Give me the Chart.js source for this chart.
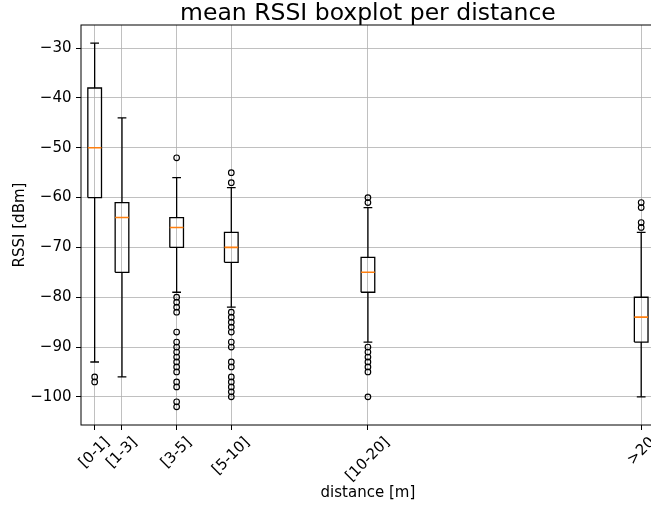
<!DOCTYPE html>
<html>
<head>
<meta charset="utf-8">
<script src="https://cdn.jsdelivr.net/npm/chart.js@4.4.0/dist/chart.umd.min.js"></script>
<style>
  html, body { margin: 0; padding: 0; background: #fff; overflow: hidden; }
  #wrap { width: 660px; height: 506px; }
</style>
</head>
<body>
<div id="wrap"><canvas id="boxChart" width="660" height="506"></canvas></div>
<script>
// distance bins and where they sit on the x axis
const categories = ['[0-1]', '[1-3]', '[3-5]', '[5-10]', '[10-20]', '>20'];
const positions = [1, 2, 4, 6, 11, 21];

// box statistics per bin (dBm)
const whiskerHigh = [-29, -44, -56, -58, -62, -67];
const q3 = [-38, -61, -64, -67, -72, -80];
const medians = [-50, -64, -66, -70, -75, -84];
const q1 = [-60, -75, -70, -73, -79, -89];
const whiskerLow = [-93, -96, -79, -82, -89, -100];

// outliers per bin
const fliers = [
  [-96, -97],
  [],
  [-52, -80, -81, -82, -83, -87, -89, -90, -91, -92, -93, -94, -95, -97, -98, -101, -102],
  [-55, -57, -83, -84, -85, -86, -87, -89, -90, -93, -94, -96, -97, -98, -99, -100],
  [-60, -61, -90, -91, -92, -93, -94, -95, -100],
  [-61, -62, -65, -66]
];

const yTicks = [-100, -90, -80, -70, -60, -50, -40, -30];

const BOX_HALF = 0.25;
const CAP_HALF = 0.16;
const FONT = '"DejaVu Sans", sans-serif';

// build polyline point lists (null y breaks the line)
const boxPts = [], whiskerPts = [], capPts = [], medianPts = [], flierPts = [];
positions.forEach((p, i) => {
  boxPts.push(
    { x: p - BOX_HALF, y: q1[i] }, { x: p + BOX_HALF, y: q1[i] },
    { x: p + BOX_HALF, y: q3[i] }, { x: p - BOX_HALF, y: q3[i] },
    { x: p - BOX_HALF, y: q1[i] }, { x: p, y: null }
  );
  whiskerPts.push(
    { x: p, y: q3[i] }, { x: p, y: whiskerHigh[i] }, { x: p, y: null },
    { x: p, y: q1[i] }, { x: p, y: whiskerLow[i] }, { x: p, y: null }
  );
  capPts.push(
    { x: p - CAP_HALF, y: whiskerHigh[i] }, { x: p + CAP_HALF, y: whiskerHigh[i] }, { x: p, y: null },
    { x: p - CAP_HALF, y: whiskerLow[i] }, { x: p + CAP_HALF, y: whiskerLow[i] }, { x: p, y: null }
  );
  medianPts.push({ x: p - BOX_HALF, y: medians[i] }, { x: p + BOX_HALF, y: medians[i] }, { x: p, y: null });
  fliers[i].forEach(v => flierPts.push({ x: p, y: v }));
});

const lineSet = (data, color, width) => ({
  data,
  showLine: true,
  spanGaps: false,
  borderColor: color,
  borderWidth: width,
  borderJoinStyle: 'miter',
  pointRadius: 0,
  fill: false
});

// rotated x tick labels centred under the ticks, plus the axes frame
const framePlugin = {
  id: 'frameAndLabels',
  afterDatasetsDraw(chart) {
    const { ctx, chartArea } = chart;
    ctx.save();
    ctx.strokeStyle = '#000';
    ctx.lineWidth = 1;
    ctx.strokeRect(chartArea.left, chartArea.top, chartArea.right - chartArea.left, chartArea.bottom - chartArea.top);
    ctx.restore();
  },
  afterDraw(chart) {
    const { ctx, chartArea, scales: { x } } = chart;
    ctx.save();
    ctx.font = '15px ' + FONT;
    ctx.fillStyle = '#000';
    ctx.textAlign = 'center';
    ctx.textBaseline = 'middle';
    const h = 17;
    const top = chartArea.bottom + 9;
    categories.forEach((label, i) => {
      const w = ctx.measureText(label).width;
      const side = (w + h) * Math.SQRT1_2;
      ctx.save();
      ctx.translate(x.getPixelForValue(positions[i]), top + side / 2);
      ctx.rotate(-Math.PI / 4);
      ctx.fillText(label, 0, 0);
      ctx.restore();
    });
    ctx.restore();
  }
};

const gridOpts = { color: '#b0b0b0', lineWidth: 0.8, tickColor: '#000', tickLength: 5, tickWidth: 1 };

new Chart(document.getElementById('boxChart'), {
  type: 'scatter',
  data: {
    datasets: [
      lineSet(medianPts, '#ff7f0e', 1.6),
      lineSet(boxPts, '#000', 1.3),
      lineSet(whiskerPts, '#000', 1.3),
      lineSet(capPts, '#000', 1.3),
      {
        data: flierPts,
        showLine: false,
        pointStyle: 'circle',
        pointRadius: 2.8,
        pointBorderWidth: 1.15,
        pointBorderColor: '#000',
        pointBackgroundColor: 'rgba(0,0,0,0)'
      }
    ]
  },
  options: {
    responsive: false,
    animation: false,
    devicePixelRatio: 1,
    layout: { padding: { left: 0, right: 5, top: 0, bottom: 0 } },
    plugins: {
      legend: { display: false },
      tooltip: { enabled: false },
      title: {
        display: true,
        text: 'mean RSSI boxplot per distance',
        fullSize: false,
        color: '#000',
        font: { family: FONT, size: 23.5, weight: 'normal', lineHeight: 0.9 },
        padding: { top: 3, bottom: 0.85 }
      }
    },
    scales: {
      x: {
        type: 'linear',
        min: 0.5,
        max: 21.5,
        afterBuildTicks: s => { s.ticks = positions.map(v => ({ value: v })); },
        afterFit: s => { s.height = 81; },
        ticks: { display: false },
        grid: gridOpts,
        border: { display: false },
        title: {
          display: true,
          text: 'distance [m]',
          color: '#000',
          font: { family: FONT, size: 15 },
          padding: { top: 0, bottom: 3.5 }
        }
      },
      y: {
        type: 'linear',
        min: -105.65,
        max: -25.35,
        afterBuildTicks: s => { s.ticks = yTicks.map(v => ({ value: v })); },
        afterFit: s => { s.width = 81; },
        ticks: {
          color: '#000',
          font: { family: FONT, size: 15 },
          padding: 4.5,
          callback: v => (v < 0 ? '\u2212' + Math.abs(v) : String(v))
        },
        grid: gridOpts,
        border: { display: false },
        title: {
          display: true,
          text: 'RSSI [dBm]',
          color: '#000',
          font: { family: FONT, size: 15 },
          padding: { top: 11, bottom: 0 }
        }
      }
    }
  },
  plugins: [framePlugin]
});
</script>
</body>
</html>
